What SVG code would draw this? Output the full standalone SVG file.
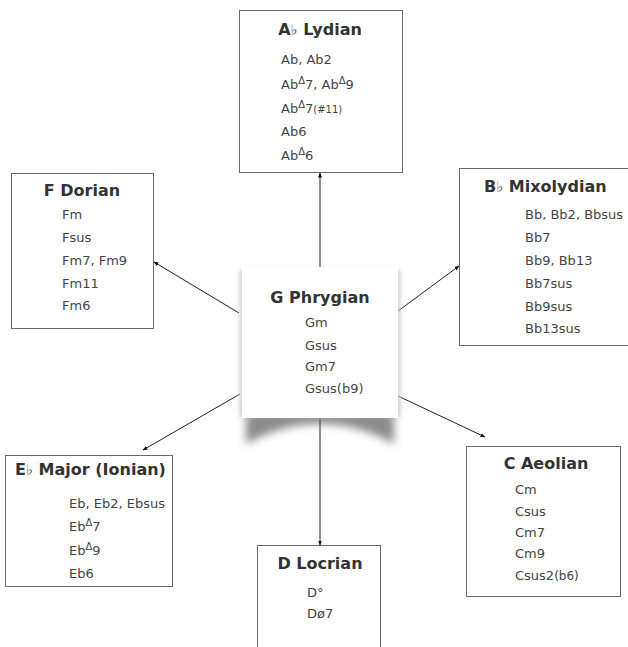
<svg xmlns="http://www.w3.org/2000/svg" width="628" height="647" viewBox="0 0 628 647">
  <style>
    .box { fill: #fff; stroke: #6b6b6b; stroke-width: 1; }
    .title { font-family: "DejaVu Sans", Verdana, sans-serif; font-size: 16px; font-weight: bold; fill: #333; }
    .flat { font-weight: normal; font-size: 15px; fill: #555; }
    .item { font-family: "DejaVu Sans", Verdana, sans-serif; font-size: 13px; fill: #444; }
    .sup { font-size: 10px; }
    .small { font-size: 10px; }
    .link { stroke: #222; stroke-width: 1; fill: none; marker-end: url(#arrow); }
  </style>
  <defs>
    <marker id="arrow" viewBox="0 0 10 10" refX="9" refY="5" markerWidth="5" markerHeight="5" orient="auto" markerUnits="userSpaceOnUse">
      <path d="M0,1 L10,5 L0,9 z" fill="#111"/>
    </marker>
    <filter id="soft" x="-20%" y="-80%" width="140%" height="260%">
      <feGaussianBlur stdDeviation="4"/>
    </filter>
    <filter id="side" x="-20%" y="-20%" width="140%" height="140%">
      <feGaussianBlur stdDeviation="2.5"/>
    </filter>
  </defs>

  <rect width="628" height="647" fill="#fff"/>

  <!-- connectors -->
  <g id="connectors">
    <line class="link" x1="320" y1="267" x2="320" y2="173"/>
    <line class="link" x1="239" y1="313" x2="154" y2="262"/>
    <line class="link" x1="398" y1="311" x2="459" y2="266"/>
    <line class="link" x1="240" y1="394" x2="143" y2="450"/>
    <line class="link" x1="398" y1="396" x2="485" y2="437"/>
    <line class="link" x1="320" y1="418" x2="320" y2="545"/>
  </g>

  <!-- Ab Lydian -->
  <g id="ab-lydian">
    <rect class="box" x="239.5" y="10.5" width="163" height="162"/>
    <text class="title" x="320" y="35" text-anchor="middle">A<tspan class="flat">♭</tspan> Lydian</text>
    <text class="item" x="281" y="64">Ab, Ab2</text>
    <text class="item" x="281" y="89">Ab<tspan class="sup" dy="-5">Δ</tspan><tspan dy="5">7, Ab</tspan><tspan class="sup" dy="-5">Δ</tspan><tspan dy="5">9</tspan></text>
    <text class="item" x="281" y="113">Ab<tspan class="sup" dy="-5">Δ</tspan><tspan dy="5">7</tspan><tspan class="small">(#11)</tspan></text>
    <text class="item" x="281" y="136">Ab6</text>
    <text class="item" x="281" y="160">Ab<tspan class="sup" dy="-5">Δ</tspan><tspan dy="5">6</tspan></text>
  </g>

  <!-- F Dorian -->
  <g id="f-dorian">
    <rect class="box" x="11.5" y="173.5" width="142" height="155"/>
    <text class="title" x="82" y="196" text-anchor="middle">F Dorian</text>
    <text class="item" x="62" y="219">Fm</text>
    <text class="item" x="62" y="242">Fsus</text>
    <text class="item" x="62" y="265">Fm7, Fm9</text>
    <text class="item" x="62" y="288">Fm11</text>
    <text class="item" x="62" y="310">Fm6</text>
  </g>

  <!-- Bb Mixolydian -->
  <g id="bb-mixolydian">
    <rect class="box" x="459.5" y="168.5" width="170" height="177"/>
    <text class="title" x="484" y="192">B<tspan class="flat">♭</tspan> Mixolydian</text>
    <text class="item" x="525" y="219">Bb, Bb2, Bbsus</text>
    <text class="item" x="525" y="242">Bb7</text>
    <text class="item" x="525" y="265">Bb9, Bb13</text>
    <text class="item" x="525" y="288">Bb7sus</text>
    <text class="item" x="525" y="311">Bb9sus</text>
    <text class="item" x="525" y="333">Bb13sus</text>
  </g>

  <!-- G Phrygian (centre, with curled drop shadow) -->
  <g id="g-phrygian">
    <path d="M246,404 L246,444 Q282,424 320,424 Q358,424 394,444 L394,404 z" fill="#666" opacity="0.75" filter="url(#soft)"/>
    <rect x="240" y="270" width="160" height="146" fill="#ccc" filter="url(#side)"/>
    <rect x="242" y="267" width="156" height="151" fill="#fff"/>
    <text class="title" x="320" y="303" text-anchor="middle">G Phrygian</text>
    <text class="item" x="305" y="327">Gm</text>
    <text class="item" x="305" y="350">Gsus</text>
    <text class="item" x="305" y="371">Gm7</text>
    <text class="item" x="305" y="393">Gsus(b9)</text>
  </g>

  <!-- Eb Major (Ionian) -->
  <g id="eb-major">
    <rect class="box" x="5.5" y="455.5" width="167" height="131"/>
    <text class="title" x="15" y="475">E<tspan class="flat">♭</tspan> Major (Ionian)</text>
    <text class="item" x="69" y="508">Eb, Eb2, Ebsus</text>
    <text class="item" x="69" y="531">Eb<tspan class="sup" dy="-5">Δ</tspan><tspan dy="5">7</tspan></text>
    <text class="item" x="69" y="555">Eb<tspan class="sup" dy="-5">Δ</tspan><tspan dy="5">9</tspan></text>
    <text class="item" x="69" y="578">Eb6</text>
  </g>

  <!-- C Aeolian -->
  <g id="c-aeolian">
    <rect class="box" x="466.5" y="446.5" width="154" height="150"/>
    <text class="title" x="546" y="469" text-anchor="middle">C Aeolian</text>
    <text class="item" x="515" y="494">Cm</text>
    <text class="item" x="515" y="516">Csus</text>
    <text class="item" x="515" y="537">Cm7</text>
    <text class="item" x="515" y="558">Cm9</text>
    <text class="item" x="515" y="580">Csus2<tspan font-size="12">(b6)</tspan></text>
  </g>

  <!-- D Locrian -->
  <g id="d-locrian">
    <rect class="box" x="257.5" y="545.5" width="123" height="110"/>
    <text class="title" x="320" y="569" text-anchor="middle">D Locrian</text>
    <text class="item" x="307" y="597">D°</text>
    <text class="item" x="307" y="618">Dø7</text>
  </g>
</svg>
